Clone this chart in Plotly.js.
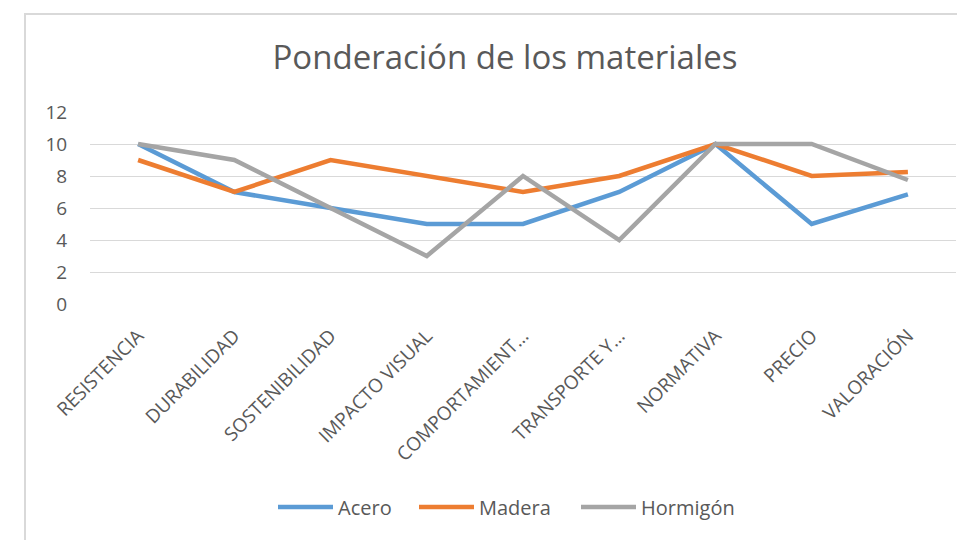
<!DOCTYPE html>
<html>
<head>
<meta charset="utf-8">
<script src="https://cdn.plot.ly/plotly-3.0.1.min.js"></script>
<style>
html,body{margin:0;padding:0;background:#fff;}
#chart{position:absolute;left:0;top:0;width:957px;height:540px;}
#frame{position:absolute;left:24px;top:13px;width:940px;height:540px;border-top:2px solid #d9d9d9;border-left:2px solid #d9d9d9;pointer-events:none;}
</style>
</head>
<body>
<div id="chart"></div>
<div id="frame"></div>
<script>
const categories = ["RESISTENCIA","DURABILIDAD","SOSTENIBILIDAD","IMPACTO VISUAL","COMPORTAMIENT…","TRANSPORTE Y…","NORMATIVA","PRECIO","VALORACIÓN"];
const acero    = [10, 7, 6, 5, 5, 7, 10, 5, 6.85];
const madera   = [9, 7, 9, 8, 7, 8, 10, 8, 8.25];
const hormigon = [10, 9, 6, 3, 8, 4, 10, 10, 7.75];
const seriesNames = ["Acero","Madera","Hormigón"];
const colors = ["#5B9BD5","#ED7D31","#A5A5A5"];
const yTicks = [0,2,4,6,8,10,12];
const legendIds = ["legend","legend","legend2"];

const traces = [acero, madera, hormigon].map((v,i)=>({
  type:'scatter', mode:'lines', x:categories, y:v, name:seriesNames[i],
  line:{color:colors[i], width:4.5}, legend:legendIds[i]
}));

const font = "Open Sans";
const legendY = -(507-304)/192;
const layout = {
  width:957, height:540,
  margin:{l:90, r:1, t:112, b:236},
  paper_bgcolor:'rgba(0,0,0,0)', plot_bgcolor:'#fff',
  title:{text:"Ponderación de los materiales", font:{family:font, size:33, color:'#595959'},
         x:505/957, xanchor:'center', y:1-57/540, yanchor:'middle'},
  xaxis:{type:'category', range:[-0.5,8.5], showgrid:false, zeroline:false, showline:false,
         tickangle:-45, tickfont:{family:font, size:19, color:'#595959'}, ticks:'',
         ticklabelstandoff:16},
  yaxis:{range:[0,12], tickvals:yTicks, showgrid:true, gridcolor:'#d9d9d9', gridwidth:1,
         zeroline:false, showline:false, ticks:'outside', ticklen:18, tickcolor:'rgba(0,0,0,0)',
         tickfont:{family:font, size:19, color:'#595959'}},
  showlegend:true,
  legend:{orientation:'h', x:(273-90)/866, xanchor:'left', y:legendY, yanchor:'middle',
          font:{family:font, size:20, color:'#595959'}, itemwidth:55, entrywidth:71, entrywidthmode:'pixels',
          bgcolor:'rgba(0,0,0,0)'},
  legend2:{orientation:'h', x:(576-90)/866, xanchor:'left', y:legendY, yanchor:'middle',
          font:{family:font, size:20, color:'#595959'}, itemwidth:55,
          bgcolor:'rgba(0,0,0,0)'}
};
Plotly.newPlot('chart', traces, layout, {displayModeBar:false, staticPlot:true});
</script>
</body>
</html>
